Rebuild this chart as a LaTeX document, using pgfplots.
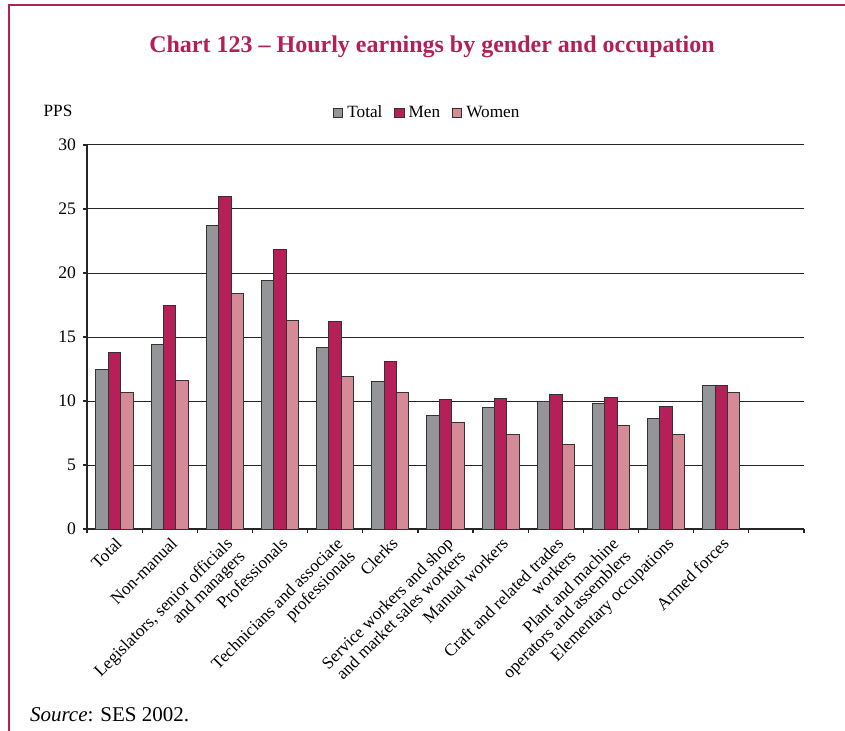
\documentclass[border=0pt]{standalone}
\usepackage{fontspec}
\setmainfont{Liberation Serif}
\usepackage{pgfplots}
\pgfplotsset{compat=1.18}

\definecolor{crim}{HTML}{B41F58}
\definecolor{totc}{HTML}{939598}
\definecolor{menc}{HTML}{B42057}
\definecolor{womc}{HTML}{D48B96}

\pgfplotsset{sqleg/.style={legend image code/.code={\draw[##1] (0pt,-2.3pt) rectangle (4.6pt,2.3pt);}}}

\begin{document}
\begin{tikzpicture}
\path[use as bounding box] (0,0) rectangle (422.5pt,-365.5pt);
\draw[crim, line width=1.2pt] (4.6pt,-365.5pt) -- (4.6pt,-2.6pt) -- (422.5pt,-2.6pt);
\node[crim, font=\fontsize{12}{14}\selectfont\bfseries] at (216pt,-23.5pt)
  {Chart 123 – Hourly earnings by gender and occupation};
\node[anchor=base west, font=\fontsize{10.5}{12}\selectfont] at (11.5pt,-360.5pt)
  {\textit{Source}: SES 2002.};

\begin{axis}[
    at={(43.5pt,-264.5pt)}, anchor=south west,
    scale only axis, width=358.5pt, height=192pt,
    clip=false,
    ybar=0pt, bar width=6.2pt,
    xmin=-0.5, xmax=12.5, ymin=0, ymax=30,
    ytick={0,5,...,30},
    xtick={0,...,11},
    minor xtick={-0.5,0.5,...,12.5},
    xticklabels={Total, Non-manual, {Legislators, senior officials\\and managers},
      Professionals, {Technicians and associate\\professionals}, Clerks,
      {Service workers and shop\\and market sales workers}, Manual workers,
      {Craft and related trades\\workers}, {Plant and machine\\operators and assemblers},
      Elementary occupations, Armed forces},
    x tick label style={rotate=45, anchor=north east, align=right,
      font=\fontsize{8.6}{8.8}\selectfont, inner sep=1pt},
    y tick label style={font=\fontsize{8.8}{9}\selectfont},
    /pgf/number format/assume math mode=true,
    major x tick style={draw=none},
    tick align=outside,
    major tick length=2pt, minor tick length=2pt,
    axis lines*=left,
    axis line style={black!85, line width=0.6pt},
    tick style={black!85, line width=0.6pt},
    ymajorgrids, grid style={black!85, line width=0.5pt},
    legend columns=3,
    legend style={at={(0.476,1)}, anchor=center, yshift=16pt, draw=none,
      font=\fontsize{8.6}{9}\selectfont,
      /tikz/every even column/.append style={column sep=4pt}},
    every axis plot/.append style={draw=black!80, line width=0.5pt},
]
\addplot[fill=totc, sqleg] coordinates {
  (0,12.5) (1,14.4) (2,23.7) (3,19.4) (4,14.2) (5,11.5)
  (6,8.9) (7,9.5) (8,10.0) (9,9.8) (10,8.6) (11,11.2)};
\addplot[fill=menc, sqleg] coordinates {
  (0,13.8) (1,17.5) (2,26.0) (3,21.8) (4,16.2) (5,13.1)
  (6,10.1) (7,10.2) (8,10.5) (9,10.3) (10,9.6) (11,11.2)};
\addplot[fill=womc, sqleg] coordinates {
  (0,10.7) (1,11.6) (2,18.4) (3,16.3) (4,11.9) (5,10.7)
  (6,8.3) (7,7.4) (8,6.6) (9,8.1) (10,7.4) (11,10.7)};
\legend{Total, Men, Women}
\node[font=\fontsize{8.6}{9}\selectfont] at (rel axis cs:0,1) [xshift=-14.5pt, yshift=17pt] {PPS};
\end{axis}
\end{tikzpicture}
\end{document}
